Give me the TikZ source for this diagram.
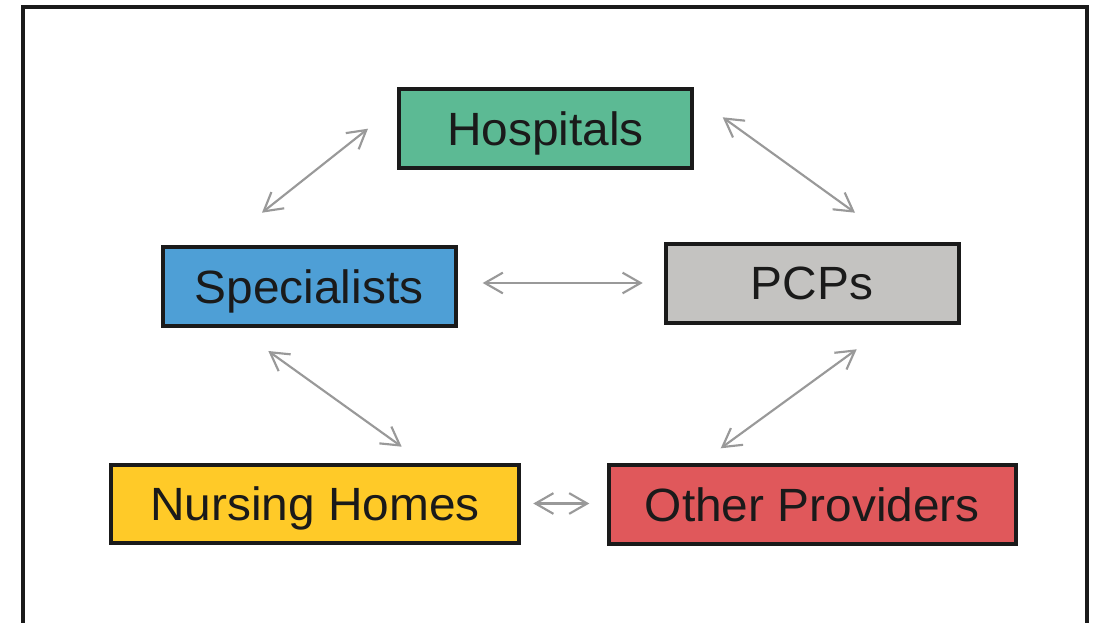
\documentclass[tikz,border=0pt]{standalone}
\usepackage{fontspec}
\setmainfont{Liberation Sans}[FakeStretch=1.025]
\usetikzlibrary{arrows.meta}
\definecolor{hospg}{HTML}{5CBA94}
\definecolor{specb}{HTML}{4E9FD6}
\definecolor{pcpg}{HTML}{C4C3C1}
\definecolor{nursy}{HTML}{FFCA28}
\definecolor{othr}{HTML}{E0585B}
\definecolor{ink}{HTML}{1A1A1A}
\definecolor{arrg}{HTML}{999999}
\tikzset{
  box/.style={draw=ink, line width=3pt, text=ink, inner sep=0pt,
    minimum height=58.9pt, font=\fontsize{35pt}{40pt}\selectfont,
    text height=25pt, text depth=0pt},
  narrowbox/.style={box, minimum width=219.75pt},
  widebox/.style={box, minimum width=305.6pt},
  link/.style={draw=arrg, line width=1.6pt,
    {Straight Barb[length=13.5pt,width=15.5pt]}-{Straight Barb[length=13.5pt,width=15.5pt]}}
}
\begin{document}
\begin{tikzpicture}[x=0.75pt,y=-0.75pt]
\clip (0,0) rectangle (1096,623);
\fill[white] (0,0) rectangle (1096,623);
\draw[ink, line width=3pt] (23,640) -- (23,7) -- (1087,7) -- (1087,640);

\node[narrowbox, fill=hospg] (hosp) at (545.5,128.5) {Hospitals};
\node[narrowbox, fill=specb] (spec) at (309,286.7) {Specialists};
\node[narrowbox, fill=pcpg] (pcp) at (812,283.3) {PCPs};
\node[widebox, fill=nursy] (nurs) at (315,504) {Nursing Homes};
\node[widebox, fill=othr] (oth) at (812.3,504.5) {Other Providers};

\coordinate (hsA) at (368,128.7);
\coordinate (hsB) at (262,212.7);
\coordinate (hpA) at (722.7,117.3);
\coordinate (hpB) at (855,212.7);
\coordinate (spA) at (482.7,283);
\coordinate (spB) at (642.7,283);
\coordinate (snA) at (268.3,351);
\coordinate (snB) at (401.7,446.7);
\coordinate (poA) at (856.7,349.3);
\coordinate (poB) at (720.7,448.3);
\coordinate (noA) at (533.3,503.5);
\coordinate (noB) at (589.3,503.5);

\draw[link] (hsA) -- (hsB);
\draw[link] (hpA) -- (hpB);
\draw[link] (spA) -- (spB);
\draw[link] (snA) -- (snB);
\draw[link] (poA) -- (poB);
\draw[link] (noA) -- (noB);
\end{tikzpicture}
\end{document}
